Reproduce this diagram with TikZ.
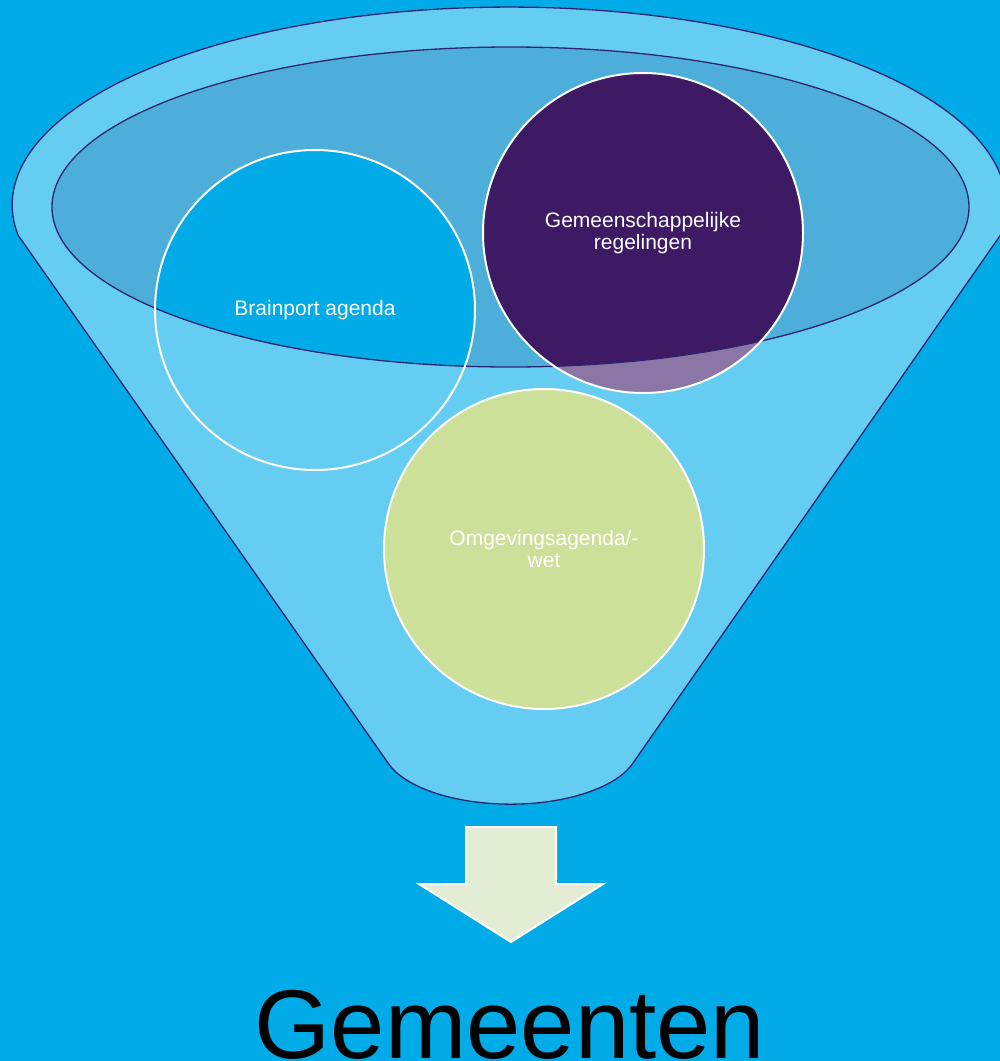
\documentclass[tikz,border=0pt]{standalone}
\usepackage{fontspec}
\setmainfont{Liberation Sans}
\definecolor{bgblue}{HTML}{00ABE8}
\definecolor{funnelfill}{HTML}{66CDF2}
\definecolor{innerfill}{HTML}{4DAFD9}
\definecolor{outline}{HTML}{2B2470}
\definecolor{purpledark}{HTML}{3D1A63}
\definecolor{purplelight}{HTML}{8B76A6}
\definecolor{greenfill}{HTML}{CDE09A}
\definecolor{arrowfill}{HTML}{E2EDD3}
\tikzset{
  ball/.style={circle, draw=white, line width=2pt, minimum size=320pt, inner sep=0pt,
    text=white, align=center, font=\fontsize{21}{22.5}\selectfont},
}
\begin{document}
\begin{tikzpicture}[x=1pt,y=-1pt]
\useasboundingbox (0,0) rectangle (1000,1061);
\fill[bgblue] (0,0) rectangle (1000,1061);
\clip (0,0) rectangle (1000,1061);
% funnel body
\filldraw[fill=funnelfill, draw=outline, line width=1.3pt]
  (18,235) arc[start angle=188.7, end angle=-8.7, x radius=497pt, y radius=198pt]
  -- (633,763) arc[start angle=-16.9, end angle=-163.1, x radius=128pt, y radius=58pt]
  -- cycle;
% inner ellipse (mouth)
\fill[innerfill] (510.5,207) ellipse[x radius=458.5pt, y radius=160pt];
% Brainport circle fill only inside the mouth
\begin{scope}
  \clip (510.5,207) ellipse[x radius=458.5pt, y radius=160pt];
  \fill[bgblue] (315,310) circle[radius=160pt];
\end{scope}
% purple circle
\fill[purplelight] (643,233) circle[radius=160pt];
\begin{scope}
  \clip (510.5,207) ellipse[x radius=458.5pt, y radius=160pt];
  \fill[purpledark] (643,233) circle[radius=160pt];
\end{scope}
\draw[outline, line width=1.3pt] (510.5,207) ellipse[x radius=458.5pt, y radius=160pt];
% circles with text
\node[ball] (brain) at (315,310) {Brainport agenda};
\node[ball] (gemreg) at (643,233) {Gemeenschappelijke\\regelingen};
\node[ball, fill=greenfill] (omg) at (544,549) {Omgevingsagenda/-\\wet};
% arrow
\filldraw[fill=arrowfill, draw=white, line width=2pt, line join=miter]
  (466,827) -- (556,827) -- (556,884) -- (603,884) -- (511,942) -- (419,884) -- (466,884) -- cycle;
% label
\node[anchor=base, inner sep=0pt, font=\fontsize{97.7}{100}\selectfont, text=black] (gem) at (510,1058) {Gemeenten};
\end{tikzpicture}
\end{document}
